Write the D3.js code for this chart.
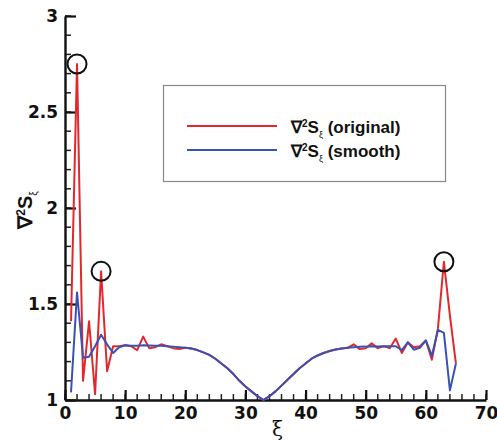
<!DOCTYPE html>
<html>
<head>
<meta charset="utf-8">
<script src="https://cdn.jsdelivr.net/npm/d3@7.9.0/dist/d3.min.js"></script>
<style>
  body { margin: 0; background: #fff; }
  svg { display: block; }
  .tick text { font-family: "DejaVu Sans", sans-serif; font-weight: bold; font-size: 17px; fill: #111; }
  .legend text { font-family: "Liberation Sans", Arial, sans-serif; font-weight: bold; font-size: 17px; fill: #111; }
</style>
</head>
<body>
<div id="chart"></div>
<script>
// xi index 1..65
const xi = d3.range(1, 66);

// ∇²S_ξ (original)
const original = [
  1.41, 2.75, 1.10, 1.41, 1.03, 1.67, 1.15, 1.28, 1.28, 1.285,
  1.28, 1.26, 1.33, 1.27, 1.275, 1.29, 1.28, 1.27, 1.265, 1.272,
  1.268, 1.26, 1.248, 1.235, 1.215, 1.19, 1.165, 1.135, 1.10, 1.07,
  1.045, 1.02, 1.0, 1.02, 1.045, 1.075, 1.105, 1.135, 1.165, 1.19,
  1.215, 1.232, 1.245, 1.255, 1.263, 1.268, 1.272, 1.29, 1.265, 1.27,
  1.295, 1.27, 1.28, 1.27, 1.32, 1.245, 1.30, 1.275, 1.28, 1.31,
  1.21, 1.37, 1.72, 1.44, 1.19
];

// ∇²S_ξ (smooth)
const smooth = [
  1.04, 1.56, 1.22, 1.225, 1.28, 1.34, 1.29, 1.245, 1.275, 1.285,
  1.283, 1.283, 1.285, 1.284, 1.283, 1.282, 1.28, 1.278, 1.275, 1.272,
  1.268, 1.26, 1.248, 1.235, 1.215, 1.19, 1.165, 1.135, 1.10, 1.07,
  1.045, 1.02, 1.0, 1.02, 1.045, 1.075, 1.105, 1.135, 1.165, 1.19,
  1.215, 1.232, 1.245, 1.255, 1.263, 1.268, 1.272, 1.275, 1.277, 1.278,
  1.28, 1.279, 1.28, 1.28, 1.28, 1.26, 1.30, 1.262, 1.272, 1.31,
  1.23, 1.365, 1.35, 1.05, 1.19
];

// peaks marked with circles
const circled = [2, 6, 63];

const xTicks = d3.range(0, 71, 10);
const yTicks = [1, 1.5, 2, 2.5, 3];
const xMinor = d3.range(0, 71, 2);
const yMinor = d3.range(10, 31).map(d => d / 10);

const width = 497, height = 442;
const red = '#e1282d', blue = '#3a51b4';

const svg = d3.select('#chart').append('svg')
  .attr('width', width)
  .attr('height', height);

const x = d3.scaleLinear().domain([0, 70]).range([65, 486]);
const y = d3.scaleLinear().domain([1, 3]).range([400, 16]);

// minor ticks (pointing inward)
const minor = svg.append('g').attr('stroke', '#222').attr('stroke-width', 1.5);
minor.selectAll('.ym')
  .data(yMinor)
  .join('line')
  .attr('class', 'ym')
  .attr('x1', x(0)).attr('x2', x(0) + 6)
  .attr('y1', d => y(d)).attr('y2', d => y(d));
minor.selectAll('.xm')
  .data(xMinor)
  .join('line')
  .attr('class', 'xm')
  .attr('x1', d => x(d)).attr('x2', d => x(d))
  .attr('y1', y(1)).attr('y2', y(1) - 6);

// major axes
svg.append('g')
  .attr('transform', `translate(${x(0)},0)`)
  .call(d3.axisLeft(y).tickValues(yTicks).tickSizeInner(-11).tickSizeOuter(0).tickPadding(7).tickFormat(d3.format('~g')))
  .call(g => g.selectAll('.tick line').attr('stroke', '#111').attr('stroke-width', 2.2))
  .call(g => g.select('.domain').attr('stroke', '#111').attr('stroke-width', 2.4));

svg.append('g')
  .attr('transform', `translate(0,${y(1)})`)
  .call(d3.axisBottom(x).tickValues(xTicks).tickSizeInner(-10).tickSizeOuter(0).tickPadding(7))
  .call(g => g.selectAll('.tick line').attr('stroke', '#111').attr('stroke-width', 2.2))
  .call(g => g.select('.domain').attr('stroke', '#111').attr('stroke-width', 2.4));

// lines
const line = d3.line().x((d, i) => x(xi[i])).y(d => y(d));

svg.append('path')
  .datum(original)
  .attr('fill', 'none')
  .attr('stroke', red)
  .attr('stroke-width', 2)
  .attr('stroke-linejoin', 'round')
  .attr('d', line);

svg.append('path')
  .datum(smooth)
  .attr('fill', 'none')
  .attr('stroke', blue)
  .attr('stroke-width', 2)
  .attr('stroke-linejoin', 'round')
  .attr('d', line);

// circles around spikes
svg.append('g').selectAll('circle')
  .data(circled)
  .join('circle')
  .attr('cx', d => x(d))
  .attr('cy', d => y(original[d - 1]))
  .attr('r', 9.5)
  .attr('fill', 'none')
  .attr('stroke', '#111')
  .attr('stroke-width', 2);

// legend
const legend = svg.append('g').attr('class', 'legend');
legend.append('rect')
  .attr('x', 163.5).attr('y', 85.5)
  .attr('width', 282).attr('height', 96)
  .attr('fill', '#fff')
  .attr('stroke', '#888')
  .attr('stroke-width', 1.2);

const items = [
  { color: red, label: '(original)', ly: 126 },
  { color: blue, label: '(smooth)', ly: 150 }
];
items.forEach(it => {
  legend.append('line')
    .attr('x1', 187).attr('x2', 277)
    .attr('y1', it.ly).attr('y2', it.ly)
    .attr('stroke', it.color).attr('stroke-width', 2);
  const t = legend.append('text').attr('x', 291).attr('y', it.ly + 7);
  t.append('tspan').text('∇');
  t.append('tspan').attr('font-size', 10).attr('dy', -6).text('2');
  t.append('tspan').attr('dy', 6).text('S');
  t.append('tspan').attr('font-size', 9).attr('dy', 5).attr('font-weight', 'normal').text('ξ');
  t.append('tspan').attr('dy', -5).text(' ' + it.label);
});

// axis titles
const yl = svg.append('text')
  .attr('transform', 'translate(32,210) rotate(-90)')
  .attr('text-anchor', 'middle')
  .style('font-family', '"Liberation Sans", Arial, sans-serif')
  .style('font-weight', 'bold')
  .style('font-size', '20px')
  .attr('fill', '#111');
yl.append('tspan').text('∇');
yl.append('tspan').attr('font-size', 12).attr('dy', -7).text('2');
yl.append('tspan').attr('dy', 7).text('S');
yl.append('tspan').attr('font-size', 10).attr('dy', 5).attr('font-weight', 'normal').text('ξ');

svg.append('text')
  .attr('x', x(35) + 2).attr('y', 436)
  .attr('text-anchor', 'middle')
  .style('font-family', '"DejaVu Serif", serif')
  .style('font-size', '20px')
  .attr('fill', '#111')
  .text('ξ');
</script>
</body>
</html>
